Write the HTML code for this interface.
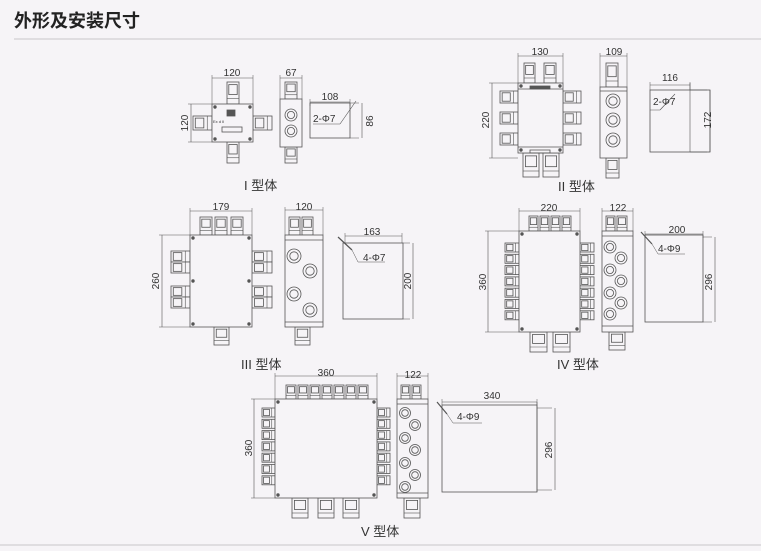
<!DOCTYPE html>
<html><head><meta charset="utf-8"><style>
html,body{margin:0;padding:0;background:#f6f4f7;}
svg{display:block;font-family:"Liberation Sans","Noto Sans CJK SC",sans-serif;}
</style></head><body>
<svg id="s" width="761" height="551" viewBox="0 0 761 551" xmlns="http://www.w3.org/2000/svg">
<rect width="761" height="551" fill="#f6f4f7"/>
<text x="14" y="27" font-size="18" font-weight="bold" fill="#222" font-family="'Noto Sans CJK SC',sans-serif">外形及安装尺寸</text>
<line x1="14" y1="39" x2="761" y2="39" stroke="#c8c6ca" stroke-width="1"/>
<line x1="0" y1="545" x2="761" y2="545" stroke="#c8c6ca" stroke-width="1"/>
<g id="g" fill="none" stroke="#555" stroke-width="0.8"></g>
<g font-size="10" fill="#333">
<text x="232" y="76" text-anchor="middle">120</text>
<text x="291" y="76" text-anchor="middle">67</text>
<text x="330" y="100" text-anchor="middle">108</text>
<text x="313" y="122">2-Φ7</text>
<text transform="translate(188,123) rotate(-90)" text-anchor="middle">120</text>
<text transform="translate(373,121) rotate(-90)" text-anchor="middle">86</text>
<text x="540" y="55" text-anchor="middle">130</text>
<text x="614" y="55" text-anchor="middle">109</text>
<text x="670" y="81" text-anchor="middle">116</text>
<text x="653" y="105">2-Φ7</text>
<text transform="translate(489,120) rotate(-90)" text-anchor="middle">220</text>
<text transform="translate(711,120) rotate(-90)" text-anchor="middle">172</text>
<text x="221" y="210" text-anchor="middle">179</text>
<text x="304" y="210" text-anchor="middle">120</text>
<text x="372" y="235" text-anchor="middle">163</text>
<text x="363" y="261">4-Φ7</text>
<text transform="translate(159,281) rotate(-90)" text-anchor="middle">260</text>
<text transform="translate(411,281) rotate(-90)" text-anchor="middle">200</text>
<text x="549" y="211" text-anchor="middle">220</text>
<text x="618" y="211" text-anchor="middle">122</text>
<text x="677" y="233" text-anchor="middle">200</text>
<text x="658" y="252">4-Φ9</text>
<text transform="translate(486,282) rotate(-90)" text-anchor="middle">360</text>
<text transform="translate(712,282) rotate(-90)" text-anchor="middle">296</text>
<text x="326" y="376" text-anchor="middle">360</text>
<text x="413" y="378" text-anchor="middle">122</text>
<text x="492" y="399" text-anchor="middle">340</text>
<text x="457" y="420">4-Φ9</text>
<text transform="translate(252,448) rotate(-90)" text-anchor="middle">360</text>
<text transform="translate(552,450) rotate(-90)" text-anchor="middle">296</text>
<text x="213" y="123" font-size="4">Ex d II</text>
</g>
<g font-size="13" fill="#333">
<text x="244" y="190">I 型体</text>
<text x="558" y="191">II 型体</text>
<text x="241" y="369">III 型体</text>
<text x="557" y="369">IV 型体</text>
<text x="361" y="536">V 型体</text>
</g>
</svg>
<script>
var G=document.getElementById('g'),h='';
function R(x,y,w,ht,f){h+='<rect x="'+x+'" y="'+y+'" width="'+w+'" height="'+ht+'"'+(f?' fill="'+f+'"':'')+'/>';}
function L(a,b,c,d,sw){h+='<line x1="'+a+'" y1="'+b+'" x2="'+c+'" y2="'+d+'"'+(sw?' stroke-width="'+sw+'"':'')+'/>';}
function C(x,y,r){h+='<circle cx="'+x+'" cy="'+y+'" r="'+r+'"/><circle cx="'+x+'" cy="'+y+'" r="'+(r*0.6)+'"/>';}
function GV(x,y,w,ht){R(x,y,w,ht,'#f6f4f7');R(x+w*0.15,y+ht*0.12,w*0.7,ht*0.45);L(x,y+ht*0.75,x+w,y+ht*0.75,0.6);}
function GH(x,y,w,ht){R(x,y,w,ht,'#f6f4f7');R(x+w*0.12,y+ht*0.15,w*0.45,ht*0.7);L(x+w*0.75,y,x+w*0.75,y+ht,0.6);}
function DH(x1,x2,y,ext){L(x1,y,x2,y,0.6);L(x1,y-3,x1,y+ext,0.5);L(x2,y-3,x2,y+ext,0.5);}
function DV(y1,y2,x,ext){L(x,y1,x,y2,0.6);L(x-3,y1,x+ext,y1,0.5);L(x-3,y2,x+ext,y2,0.5);}
function holes(x,y,w,ht){h+='<circle cx="'+(x+3)+'" cy="'+(y+3)+'" r="1.3" fill="#555"/><circle cx="'+(x+w-3)+'" cy="'+(y+3)+'" r="1.3" fill="#555"/><circle cx="'+(x+3)+'" cy="'+(y+ht-3)+'" r="1.3" fill="#555"/><circle cx="'+(x+w-3)+'" cy="'+(y+ht-3)+'" r="1.3" fill="#555"/>';}
// I
GV(227,82,12,22);GV(227,142,12,21);GH(193,116,19,14);GH(253,116,19,14);
R(212,104,41,38,'#f6f4f7');holes(212,104,41,38);R(222,127,20,5);R(227,110,8,6,'#555');
DH(212,253,78,26);DV(104,142,191,21);
GV(285,82,12,17);GV(285,147,12,16);R(280,99,22,48,'#f6f4f7');C(291,115,6);C(291,131,6);DH(280,302,78,21);
R(310,103,40,35);DH(310,350,102,4);DV(103,138,362,-12);L(340,124,356,101,0.6);L(313,124,340,124,0.5);
// II
GV(524,63,11,20);GV(544,63,12,20);GV(523,153,16,24);GV(543,153,16,24);
[97,118,139].forEach(function(y){GH(500,y-6,18,12);GH(563,y-6,18,12);});
R(518,83,45,70,'#f6f4f7');L(518,89,563,89);L(518,147,563,147);holes(518,83,45,70);R(530,86,20,3,'#555');R(530,150,20,3);
DH(518,563,56,27);DV(83,158,492,26);
GV(606,63,12,24);GV(606,158,13,20);R(600,87,27,71,'#f6f4f7');L(600,91,627,91);C(613,101,7);C(613,120,7);C(613,140,7);DH(600,627,56,31);
R(650,90,60,62);L(690,83,690,152,0.6);DH(650,690,85,5);DV(90,152,710,-20);L(650,110,660,110,0.5);L(660,110,675,94,0.6);
// III
[200,215,231].forEach(function(x){GV(x,217,12,18);});GV(214,327,15,18);
[251,262,286,297].forEach(function(y){GH(171,y,19,11);GH(252,y,20,11);});
R(190,235,62,92,'#f6f4f7');holes(190,235,62,92);h+='<circle cx="193" cy="281" r="1.3" fill="#555"/><circle cx="249" cy="281" r="1.3" fill="#555"/>';
DH(190,252,211,24);DV(235,327,162,28);
GV(289,217,11,18);GV(302,217,11,18);GV(295,327,15,18);R(285,235,38,92,'#f6f4f7');L(285,240,323,240);L(285,322,323,322);
C(294,256,7);C(310,271,7);C(294,294,7);C(310,310,7);DH(285,323,210,25);
R(343,243,60,76);DH(345,402,236,7);DV(243,319,413,-10);L(338,237,352,250,1.2);L(352,250,358,262,0.5);L(358,262,385,262,0.5);
// IV
[529,540,551,562].forEach(function(x){GV(x,216,9,15);});GV(530,332,17,20);GV(553,332,17,20);
for(var i=0;i<7;i++){GH(505,243+i*11.3,14,9);GH(580,243+i*11.3,14,9);}
R(519,231,61,101,'#f6f4f7');holes(519,231,61,101);DH(519,580,211,20);DV(231,332,488,31);
GV(606,216,9,15);GV(617,216,10,15);GV(609,332,16,18);R(602,231,31,101,'#f6f4f7');L(602,236,633,236);L(602,326,633,326);
[[610,247],[621,258],[610,270],[621,281],[610,293],[621,303],[610,314]].forEach(function(p){C(p[0],p[1],6);});DH(602,633,211,20);
R(645,235,58,87);DH(645,703,234,4);DV(237,322,715,-12);L(641,232,652,244,1.2);L(652,244,658,254,0.5);L(658,254,685,254,0.5);
// V
for(var i=0;i<7;i++){GV(286+i*12,385,10,14);GH(262,408+i*11.3,13,9);GH(377,408+i*11.3,13,9);}
[292,318,343].forEach(function(x){GV(x,498,16,20);});
R(275,399,102,99,'#f6f4f7');holes(275,399,102,99);DH(275,377,376,23);DV(399,498,254,21);
GV(401,385,9,14);GV(412,385,9,14);GV(404,498,16,20);R(397,399,31,99,'#f6f4f7');L(397,404,428,404);L(397,493,428,493);
[[405,413],[415,425],[405,438],[415,450],[405,463],[415,475],[405,487]].forEach(function(p){C(p[0],p[1],5.5);});DH(397,428,376,23);
R(442,405,95,87);L(537,402,537,492,0.6);DH(442,537,402,3);DV(408,490,555,-18);L(437,402,447,414,1.2);L(447,414,453,423,0.5);L(453,423,482,423,0.5);
G.innerHTML=h;
</script>
</body></html>
